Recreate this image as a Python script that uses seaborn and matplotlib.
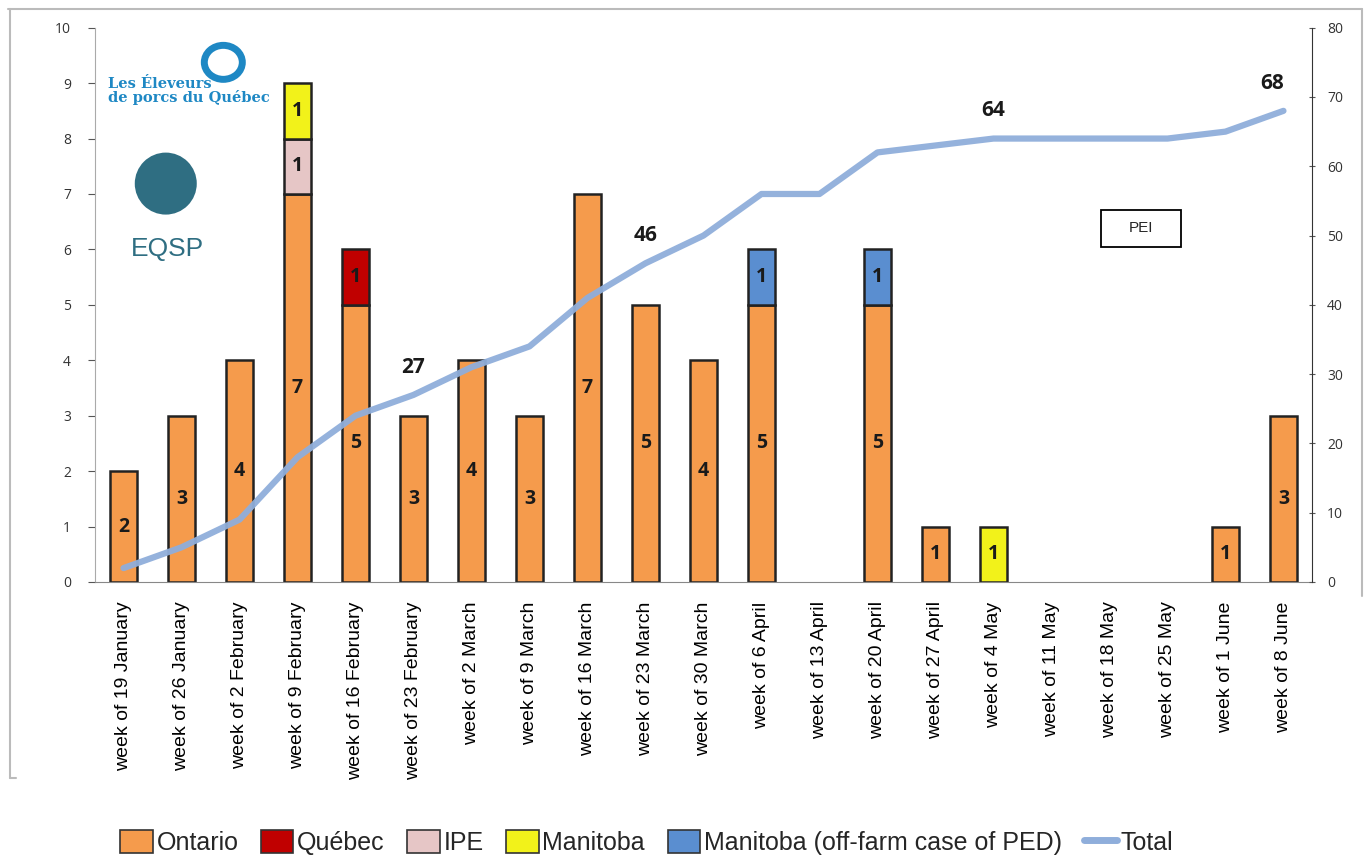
import numpy as np
import pandas as pd
import matplotlib
matplotlib.use("Agg")
import matplotlib.pyplot as plt
from matplotlib.lines import Line2D
from matplotlib.patches import Patch, Ellipse, Rectangle
import seaborn as sns

# données par semaine
weeks = ["week of 19 January", "week of 26 January", "week of 2 February",
         "week of 9 February", "week of 16 February", "week of 23 February",
         "week of 2 March", "week of 9 March", "week of 16 March",
         "week of 23 March", "week of 30 March", "week of 6 April",
         "week of 13 April", "week of 20 April", "week of 27 April",
         "week of 4 May", "week of 11 May", "week of 18 May",
         "week of 25 May", "week of 1 June", "week of 8 June"]
ontario = [2, 3, 4, 7, 5, 3, 4, 3, 7, 5, 4, 5, 0, 5, 1, 0, 0, 0, 0, 1, 3]
quebec = [0, 0, 0, 0, 1, 0, 0, 0, 0, 0, 0, 0, 0, 0, 0, 0, 0, 0, 0, 0, 0]
ipe = [0, 0, 0, 1, 0, 0, 0, 0, 0, 0, 0, 0, 0, 0, 0, 0, 0, 0, 0, 0, 0]
manitoba = [0, 0, 0, 1, 0, 0, 0, 0, 0, 0, 0, 0, 0, 0, 0, 1, 0, 0, 0, 0, 0]
manitoba_off = [0, 0, 0, 0, 0, 0, 0, 0, 0, 0, 0, 1, 0, 1, 0, 0, 0, 0, 0, 0, 0]
total = [2, 5, 9, 18, 24, 27, 31, 34, 41, 46, 50, 56, 56, 62, 63, 64, 64, 64, 64, 65, 68]
total_labels = {"week of 23 February": 27, "week of 23 March": 46,
                "week of 4 May": 64, "week of 8 June": 68}

series = [("Ontario", ontario, "#F59B4C"),
          ("Québec", quebec, "#C00000"),
          ("IPE", ipe, "#E6C6C6"),
          ("Manitoba", manitoba, "#F2F21A"),
          ("Manitoba (off-farm case of PED)", manitoba_off, "#5A8ED0")]
line_color = "#8FAEDB"

sns.set_style("white")
plt.rcParams["font.family"] = ["Liberation Sans", "DejaVu Sans"]

fig = plt.figure(figsize=(13.7, 8.66), dpi=100)
ax = fig.add_axes([0.069, 0.328, 0.889, 0.640])
ax2 = ax.twinx()

bottom = np.zeros(len(weeks))
for name, vals, col in series:
    vals = np.array(vals, dtype=float)
    sns.barplot(x=weeks, y=vals, bottom=bottom, color=col, saturation=1,
                width=0.46, edgecolor="#222222", linewidth=1.8,
                errorbar=None, ax=ax)
    for i, v in enumerate(vals):
        if v > 0:
            ax.text(i, bottom[i] + v / 2, str(int(v)), ha="center", va="center",
                    fontsize=14, fontweight="bold", family="Open Sans", color="#1a1a1a")
    bottom += vals

# pas de barre vide
for p in ax.patches:
    if p.get_height() == 0:
        p.set_visible(False)

# courbe cumulative
pos = np.arange(len(weeks))
sns.lineplot(x=pos, y=total, color=line_color, linewidth=4.5, ax=ax2, alpha=0.95)
for i, w in enumerate(weeks):
    if w in total_labels:
        dx = -0.2 if i == len(weeks) - 1 else 0
        ax2.text(i + dx, total[i] + 2.5, str(total_labels[w]), ha="center", va="bottom",
                 fontsize=15, fontweight="bold", family="Open Sans", color="#1a1a1a")

ax.set_ylim(0, 10)
ax2.set_ylim(0, 80)
ax.set_xlim(-0.38, len(weeks) - 1 + 0.39)
ax.set_yticks(range(0, 11))
ax2.set_yticks(range(0, 81, 10))
ax.set_xlabel("")
ax.set_ylabel("")
ax2.set_ylabel("")

ax.set_xticks(pos)
ax.set_xticklabels(weeks, rotation=90, fontsize=14, color="black")
ax.set_xticks(np.arange(-0.5, len(weeks), 1), minor=True)
ax.tick_params(axis="x", which="major", length=0, pad=14)
ax.tick_params(axis="x", which="minor", length=6, color="#888888", direction="out")
ax.tick_params(axis="y", length=5, color="#555555", labelsize=10, labelcolor="#333333", pad=12)
ax2.tick_params(axis="y", length=5, color="#555555", labelsize=10, labelcolor="#333333",
                direction="inout", pad=8)
for t in ax.get_yticklabels() + ax2.get_yticklabels():
    t.set_family("Open Sans")

ax.spines["top"].set_visible(False)
ax2.spines["top"].set_visible(False)
ax.spines["right"].set_visible(False)
ax.spines["left"].set_color("#aaaaaa")
ax.spines["bottom"].set_color("#888888")
ax2.spines["left"].set_visible(False)
ax2.spines["bottom"].set_visible(False)
ax2.spines["right"].set_color("#333333")

# encadré PEI
ax2.add_patch(Rectangle((0.826, 0.605), 0.066, 0.067, transform=ax.transAxes,
                        fc="white", ec="black", lw=1.3, zorder=5))
ax2.text(0.859, 0.638, "PEI", transform=ax.transAxes, fontsize=11, family="Liberation Sans",
         ha="center", va="center", zorder=6)

# logos (approximation)
fig.text(0.079, 0.895, "Les Éleveurs\nde porcs du Québec", fontsize=10.5, fontweight="bold",
         family="DejaVu Serif", color="#1E88C4", linespacing=0.95, va="center")
fig.patches.append(Ellipse((0.163, 0.928), 38 / 1370, 34 / 866, transform=fig.transFigure,
                           fill=False, ec="#1E88C4", lw=5))
fig.patches.append(Ellipse((0.121, 0.788), 62 / 1370, 62 / 866, transform=fig.transFigure,
                           fc="#2F6E82", ec="none"))
fig.text(0.122, 0.712, "EQSP", fontsize=19, family="Liberation Sans",
         color="#2F6E82", ha="center", va="center")

# cadre
frame = dict(transform=fig.transFigure, color="#bbbbbb", lw=1.5)
fig.add_artist(Line2D([0.006, 0.994], [0.99, 0.99], **frame))
fig.add_artist(Line2D([0.007, 0.007], [0.99, 0.102], **frame))
fig.add_artist(Line2D([0.007, 0.012], [0.102, 0.102], **frame))
fig.add_artist(Line2D([0.994, 0.994], [0.99, 0.312], **frame))

# légende
handles = [Patch(fc=c, ec="#333333", lw=1.2) for _, _, c in series]
handles.append(Line2D([0], [0], color=line_color, lw=5))
labels = [n for n, _, _ in series] + ["Total"]
fig.legend(handles, labels, loc="center", bbox_to_anchor=(0.472, 0.027), ncol=6,
           frameon=False, fontsize=18, handlelength=1.3, handleheight=1.0,
           handletextpad=0.15, columnspacing=0.9)

fig.savefig("out.png", dpi=100)
